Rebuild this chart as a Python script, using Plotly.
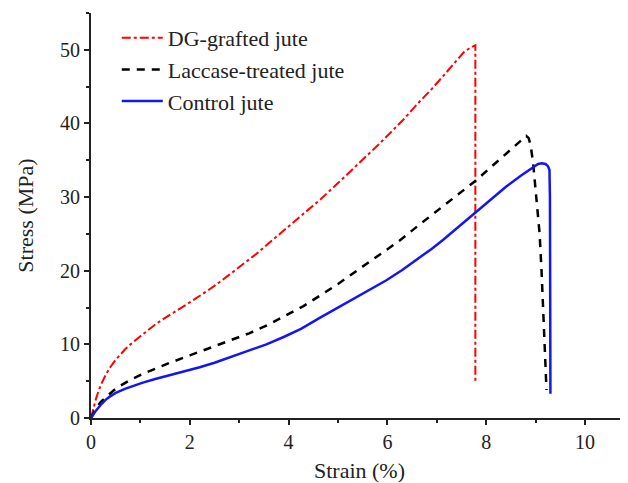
import plotly.graph_objects as go

# DG-grafted jute (red dash-dot)
dg_strain = [0, 0.05, 0.1, 0.15, 0.2, 0.3, 0.4, 0.5, 0.6, 0.7, 0.8, 0.9, 1.0, 1.15, 1.32, 1.5,
             1.75, 2.0, 2.25, 2.47, 2.75, 3.0, 3.35, 3.68, 4.0, 4.3, 4.63, 5.0, 5.4, 5.8, 6.1,
             6.32, 6.6, 6.9, 7.15, 7.4, 7.55, 7.68, 7.78, 7.78]
dg_stress = [0, 1.4, 2.6, 3.6, 4.5, 5.9, 7.0, 7.9, 8.7, 9.4, 10.0, 10.6, 11.1, 11.9, 12.8, 13.6,
             14.6, 15.7, 16.8, 17.8, 19.2, 20.5, 22.3, 24.2, 26.0, 27.7, 29.6, 31.9, 34.4, 37.0, 39.0,
             40.5, 42.6, 44.7, 46.6, 48.6, 49.7, 50.3, 50.6, 4.9]

# Laccase-treated jute (black dashed)
lac_strain = [0, 0.05, 0.1, 0.2, 0.31, 0.45, 0.6, 0.8, 1.05, 1.3, 1.6, 2.0, 2.4, 2.87, 3.2,
              3.6, 4.0, 4.3, 4.63, 5.0, 5.4, 5.8, 6.25, 6.6, 7.0, 7.4, 7.8, 8.1, 8.45, 8.7,
              8.81, 8.86, 8.9, 8.95, 9.02, 9.08, 9.12, 9.16, 9.2, 9.22]
lac_stress = [0, 0.7, 1.3, 2.2, 2.9, 3.7, 4.4, 5.2, 6.0, 6.7, 7.5, 8.5, 9.5, 10.6, 11.5,
              12.7, 14.1, 15.2, 16.6, 18.2, 20.1, 22.0, 24.1, 26.0, 28.1, 30.1, 32.3, 34.1, 36.2, 37.7,
              38.3, 38.0, 37.0, 34.6, 30.0, 25.1, 20.0, 13.0, 7.0, 3.8]

# Control jute (blue solid)
ctl_strain = [0, 0.05, 0.1, 0.2, 0.3, 0.38, 0.5, 0.7, 0.9, 1.05, 1.3, 1.6, 1.9, 2.2, 2.5,
              2.8, 3.2, 3.55, 3.9, 4.25, 4.63, 5.0, 5.3, 5.65, 5.98, 6.3, 6.6, 6.9, 7.13, 7.45,
              7.8, 8.1, 8.4, 8.7, 8.95, 9.05, 9.12, 9.2, 9.25, 9.28, 9.29, 9.29, 9.3]
ctl_stress = [0, 0.5, 1.0, 1.8, 2.5, 2.9, 3.4, 4.0, 4.5, 4.8, 5.3, 5.8, 6.3, 6.9, 7.5,
              8.2, 9.1, 10.0, 11.0, 12.1, 13.6, 15.0, 16.1, 17.4, 18.7, 20.1, 21.5, 23.0, 24.2, 26.0,
              28.0, 29.7, 31.4, 32.9, 34.1, 34.5, 34.6, 34.5, 34.2, 33.7, 30.0, 23.5, 3.3]

x_ticks = [0, 2, 4, 6, 8, 10]
y_ticks = [0, 10, 20, 30, 40, 50]

fig = go.Figure()
fig.add_trace(go.Scatter(x=dg_strain, y=dg_stress, mode="lines", name="DG-grafted jute",
                         line=dict(color="#ff0000", width=2, dash="dashdot")))
fig.add_trace(go.Scatter(x=lac_strain, y=lac_stress, mode="lines", name="Laccase-treated jute",
                         line=dict(color="#000000", width=2.5, dash="8px,7px")))
fig.add_trace(go.Scatter(x=ctl_strain, y=ctl_stress, mode="lines", name="Control jute",
                         line=dict(color="#1515f0", width=2.5)))

font = "Liberation Serif"
fig.update_layout(
    width=620, height=475,
    margin=dict(l=83, r=0, t=5, b=65),
    plot_bgcolor="white", paper_bgcolor="white",
    font=dict(family=font, color="#222222", size=20),
    showlegend=True,
    legend=dict(x=0.048, y=0.99, xanchor="left", yanchor="top",
                bgcolor="rgba(0,0,0,0)", font=dict(size=22, family=font, color="#222222"),
                tracegroupgap=0, itemwidth=41),
    xaxis=dict(range=[0, 10.87], tickvals=x_ticks, ticks="outside", ticklen=5, tickwidth=2,
               tickcolor="#222222", showline=True, linecolor="#222222", linewidth=2,
               showgrid=False, zeroline=False, automargin=False,
               minor=dict(dtick=1, tick0=0, ticks="outside", ticklen=3, tickwidth=2, tickcolor="#222222"),
               tickfont=dict(size=20, family=font),
               title=dict(text="Strain (%)", font=dict(size=22, family=font), standoff=14)),
    yaxis=dict(range=[0, 55], tickvals=y_ticks, ticks="outside", ticklen=5, tickwidth=2,
               tickcolor="#222222", showline=True, linecolor="#222222", linewidth=2,
               showgrid=False, zeroline=False, automargin=False,
               minor=dict(dtick=5, tick0=0, ticks="outside", ticklen=3, tickwidth=2, tickcolor="#222222"),
               tickfont=dict(size=20, family=font),
               title=dict(text="Stress (MPa)", font=dict(size=22, family=font), standoff=20)),
)

fig.write_html("out.html")
